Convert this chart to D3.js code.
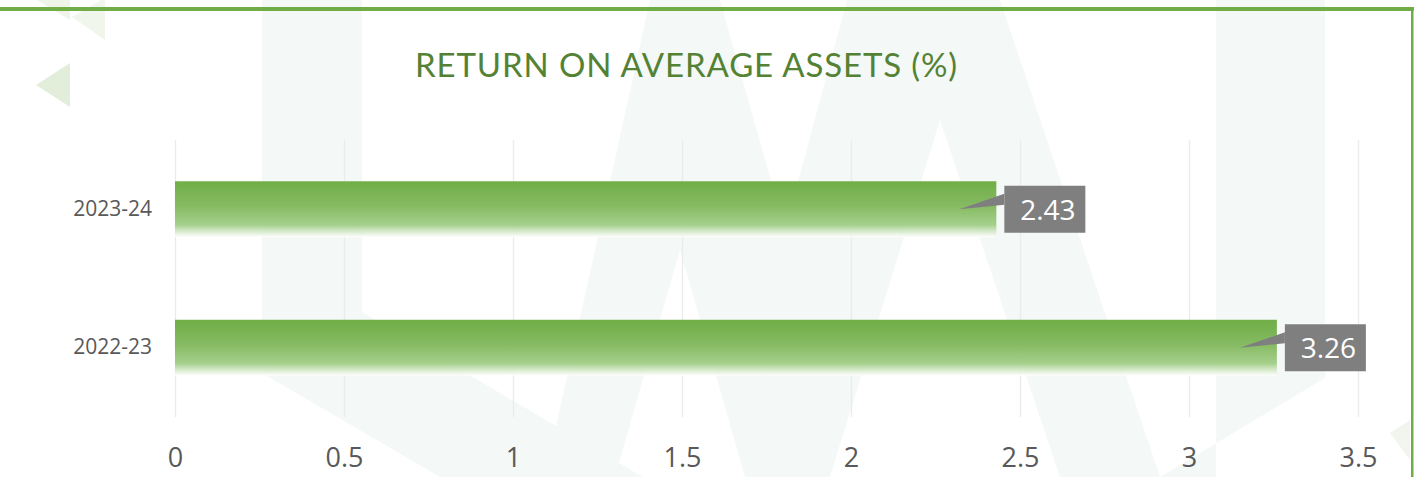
<!DOCTYPE html>
<html>
<head>
<meta charset="utf-8">
<script src="https://cdn.jsdelivr.net/npm/d3@7"></script>
<style>
  html, body { margin: 0; padding: 0; background: #ffffff; }
  svg { display: block; }
</style>
</head>
<body>
<svg width="1414" height="477"></svg>
<script>
const categories = ["2023-24", "2022-23"];
const roaa = [2.43, 3.26];
const tickValues = [0, 0.5, 1, 1.5, 2, 2.5, 3, 3.5];
const chartTitle = "RETURN ON AVERAGE ASSETS (%)";

const W = 1414, H = 477;
const plot = { left: 175, right: 1358, top: 140, bottom: 417 };
const font = "'Open Sans', 'DejaVu Sans', sans-serif";

const svg = d3.select("svg");

const defs = svg.append("defs");
const grad = defs.append("linearGradient")
  .attr("id", "barFill")
  .attr("x1", 0).attr("y1", 0).attr("x2", 0).attr("y2", 1);
grad.append("stop").attr("offset", "0%").attr("stop-color", "#70ad47");
grad.append("stop").attr("offset", "45%").attr("stop-color", "#86bb63");
grad.append("stop").attr("offset", "78%").attr("stop-color", "#a5d08c");
grad.append("stop").attr("offset", "100%").attr("stop-color", "#ffffff").attr("stop-opacity", 0.9);

// faint watermark behind the chart
const mark = svg.append("g").attr("fill", "#f4f8f6");
const shapes = [
  [[262,0],[362,0],[362,312],[643,477],[440,477],[262,373]],
  [[545,477],[650,0],[720,0],[785,230],[847,0],[1000,0],[1160,477],[1060,477],[940,120],[830,477],[745,477],[680,250],[615,477]],
  [[1216,0],[1325,0],[1325,378],[1160,477],[1216,477]]
];
mark.selectAll("polygon").data(shapes).join("polygon")
  .attr("points", d => d.map(p => p.join(",")).join(" "));

// small green triangles in the top-left corner
const tri = svg.append("g");
tri.append("polygon").attr("points", "36,85 70,63 70,107").attr("fill", "#e2eed9");
tri.append("polygon").attr("points", "72,17 101,0 105,0 105,40").attr("fill", "#f1f6ec");
tri.append("polygon").attr("points", "37,0 70,0 70,20").attr("fill", "#eef4e8");
tri.append("polygon").attr("points", "1390,433 1410,420 1410,460").attr("fill", "#f1f5ee");

// frame
svg.append("rect").attr("x", 0).attr("y", 7).attr("width", W).attr("height", 4).attr("fill", "#70ad47");
svg.append("rect").attr("x", 1411).attr("y", 9).attr("width", 2.5).attr("height", H).attr("fill", "#70ad47");

const x = d3.scaleLinear().domain([0, 3.5]).range([plot.left, plot.right]);
const y = d3.scaleBand().domain(categories).range([plot.top, plot.bottom])
  .paddingInner(0.596).paddingOuter(0.298);

// gridlines
const grid = svg.append("g")
  .attr("transform", `translate(0,${plot.bottom})`)
  .call(d3.axisBottom(x).tickValues(tickValues).tickSize(-(plot.bottom - plot.top)).tickFormat(""));
grid.select(".domain").remove();
grid.selectAll("line").attr("stroke", "#ebebeb").attr("stroke-width", 1.3);

// x tick labels
const xAxis = svg.append("g")
  .attr("transform", `translate(0,${plot.bottom})`)
  .call(d3.axisBottom(x).tickValues(tickValues).tickSize(0).tickFormat(d => String(d)));
xAxis.select(".domain").remove();
xAxis.selectAll("text")
  .attr("y", 50).attr("dy", 0)
  .attr("fill", "#595959")
  .style("font-family", font).style("font-size", "27px");

// category labels
const yAxis = svg.append("g")
  .attr("transform", `translate(${plot.left},0)`)
  .call(d3.axisLeft(y).tickSize(0).tickPadding(23));
yAxis.select(".domain").remove();
yAxis.selectAll("text")
  .attr("fill", "#595959")
  .style("font-family", font).style("font-size", "21px");

const rows = categories.map((c, i) => ({ cat: c, value: roaa[i] }));

// bars
svg.append("g").selectAll("rect").data(rows).join("rect")
  .attr("x", x(0))
  .attr("y", d => y(d.cat))
  .attr("width", d => x(d.value) - x(0))
  .attr("height", y.bandwidth())
  .attr("fill", "url(#barFill)");

// data callouts
const boxW = 81, boxH = 47;
const callout = svg.append("g").selectAll("g").data(rows).join("g")
  .attr("transform", d => `translate(${x(d.value) + 8},${y(d.cat) + y.bandwidth() / 2 - boxH / 2})`);
callout.append("path")
  .attr("d", `M0,8 L-45,${boxH / 2} L0,19 Z`)
  .attr("fill", "#7f7f7f");
callout.append("rect")
  .attr("width", boxW).attr("height", boxH)
  .attr("fill", "#7f7f7f");
callout.append("text")
  .attr("x", boxW / 2 + 3).attr("y", 34)
  .attr("text-anchor", "middle")
  .attr("fill", "#ffffff")
  .style("font-family", font).style("font-size", "28px")
  .text(d => d.value.toFixed(2));

// title
svg.append("text")
  .attr("x", 415).attr("y", 77)
  .attr("textLength", 542).attr("lengthAdjust", "spacing")
  .attr("fill", "#548235")
  .style("font-family", "Lato, 'Open Sans', sans-serif").style("font-size", "33px")
  .text(chartTitle);
</script>
</body>
</html>
